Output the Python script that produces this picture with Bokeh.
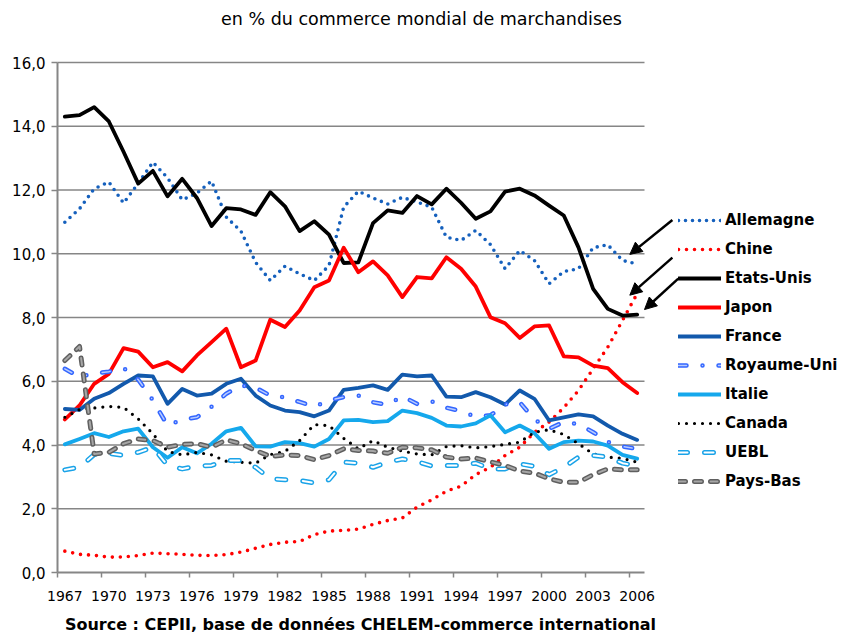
from bokeh.plotting import figure
from bokeh.models import (Range1d, FixedTicker, CustomJSTickFormatter, Legend, LegendItem,
                          Arrow, NormalHead, Label)
from bokeh.embed import file_html
from bokeh.resources import INLINE

# ---------------- data (share of world merchandise trade, %) ----------------
years = list(range(1967, 2007))

allemagne = [10.99, 11.41, 12.04, 12.25, 11.59, 12.21, 12.87, 12.38, 11.69, 11.9,
             12.28, 11.15, 10.71, 9.73, 9.16, 9.61, 9.37, 9.16, 9.63, 11.46,
             11.96, 11.75, 11.56, 11.77, 11.62, 11.46, 10.52, 10.42, 10.73, 10.29,
             9.53, 10.1, 9.79, 9.06, 9.44, 9.53, 10.19, 10.28, 9.79, 9.68]
chine = [0.67, 0.57, 0.54, 0.48, 0.49, 0.53, 0.61, 0.59, 0.57, 0.54,
         0.53, 0.56, 0.64, 0.76, 0.88, 0.95, 0.97, 1.19, 1.3, 1.32,
         1.36, 1.51, 1.63, 1.71, 2.05, 2.28, 2.55, 2.71, 3.07, 3.3,
         3.67, 3.93, 4.4, 4.72, 5.17, 5.71, 6.39, 7.07, 7.91, 8.75]
etats_unis = [14.3, 14.35, 14.6, 14.15, 13.2, 12.2, 12.6, 11.8, 12.35, 11.75,
              10.87, 11.43, 11.39, 11.22, 11.93, 11.49, 10.71, 11.02, 10.6, 9.71,
              9.73, 10.96, 11.36, 11.28, 11.81, 11.55, 12.04, 11.6, 11.1, 11.33,
              11.95, 12.04, 11.83, 11.51, 11.2, 10.2, 8.9, 8.27, 8.06, 8.09]
japon = [4.8, 5.24, 5.92, 6.23, 7.04, 6.93, 6.44, 6.6, 6.31, 6.81,
         7.23, 7.65, 6.44, 6.65, 7.93, 7.7, 8.22, 8.95, 9.16, 10.19,
         9.42, 9.76, 9.32, 8.64, 9.27, 9.23, 9.89, 9.53, 8.97, 8.01,
         7.82, 7.36, 7.72, 7.75, 6.78, 6.75, 6.49, 6.41, 5.97, 5.63]
france = [5.13, 5.1, 5.45, 5.63, 5.92, 6.18, 6.15, 5.29, 5.76, 5.55,
          5.61, 5.92, 6.08, 5.55, 5.24, 5.08, 5.03, 4.9, 5.08, 5.73,
          5.79, 5.87, 5.73, 6.21, 6.15, 6.18, 5.52, 5.5, 5.66, 5.5,
          5.27, 5.71, 5.45, 4.77, 4.87, 4.96, 4.9, 4.61, 4.35, 4.16]
royaume_uni = [6.39, 6.13, 6.25, 6.3, 6.42, 6.05, 5.4, 4.61, 4.8, 4.87,
               5.2, 5.61, 5.87, 5.8, 5.55, 5.5, 5.35, 5.2, 5.4, 5.5,
               5.55, 5.34, 5.26, 5.53, 5.29, 5.37, 5.17, 5.06, 4.89, 4.93,
               5.27, 5.34, 4.8, 4.51, 4.72, 4.66, 4.4, 4.1, 3.95, 3.88]
italie = [4.02, 4.19, 4.37, 4.25, 4.43, 4.51, 3.93, 3.6, 3.93, 3.74,
          4.04, 4.43, 4.54, 3.96, 3.95, 4.09, 4.06, 3.95, 4.19, 4.77,
          4.79, 4.72, 4.75, 5.08, 5.0, 4.85, 4.61, 4.58, 4.68, 4.93,
          4.4, 4.61, 4.37, 3.88, 4.09, 4.14, 4.11, 3.98, 3.69, 3.57]
canada = [4.87, 5.11, 5.16, 5.21, 5.18, 4.82, 4.35, 3.8, 3.69, 3.77,
          3.69, 3.49, 3.46, 3.43, 3.7, 3.8, 4.14, 4.64, 4.61, 4.21,
          3.88, 4.14, 3.93, 3.81, 3.72, 3.69, 3.95, 3.98, 3.91, 3.95,
          4.02, 4.09, 4.4, 4.48, 4.33, 4.04, 3.72, 3.62, 3.58, 3.46]
uebl = [3.22, 3.3, 3.7, 3.74, 3.67, 3.77, 3.93, 3.36, 3.25, 3.34,
        3.36, 3.51, 3.51, 3.3, 2.94, 2.91, 2.89, 2.81, 2.91, 3.46,
        3.43, 3.3, 3.46, 3.56, 3.48, 3.34, 3.36, 3.36, 3.43, 3.25,
        3.25, 3.41, 3.33, 3.07, 3.3, 3.62, 3.67, 3.62, 3.43, 3.34]
pays_bas = [6.65, 7.09, 3.72, 3.77, 4.04, 4.19, 4.14, 3.93, 4.02, 4.04,
            3.93, 4.16, 4.04, 3.83, 3.64, 3.69, 3.67, 3.54, 3.67, 3.88,
            3.83, 3.81, 3.74, 3.93, 3.91, 3.85, 3.62, 3.56, 3.59, 3.47,
            3.36, 3.18, 3.12, 2.94, 2.83, 2.83, 3.07, 3.25, 3.22, 3.22]

y_ticks = [0, 2, 4, 6, 8, 10, 12, 14, 16]
x_label_years = years[::3]

title_text = "en % du commerce mondial de marchandises"
source_text = "Source : CEPII, base de données CHELEM-commerce international"

# ---------------- layout ----------------
FONT = "DejaVu Sans"
AXIS_GRAY = "#868686"
W, H = 845, 634
CHART_LEFT, CHART_RIGHT = 57, 644  # pixel columns of the chart area
CHART_TOP, CHART_BOTTOM = 62, 572  # pixel rows of 16,0 and 0,0
x0 = years[0] - 0.5
x1 = years[-1] + 0.5
px_per_year = (CHART_RIGHT - CHART_LEFT) / (x1 - x0)
px_per_unit = (CHART_BOTTOM - CHART_TOP) / (y_ticks[-1] - y_ticks[0])
x_lo = x0 - CHART_LEFT / px_per_year
x_hi = x0 + (W - CHART_LEFT) / px_per_year
y_lo = y_ticks[0] - (H - CHART_BOTTOM) / px_per_unit
y_hi = y_ticks[-1] + CHART_TOP / px_per_unit

p = figure(frame_width=W, frame_height=H,
           x_range=Range1d(x_lo, x_hi), y_range=Range1d(y_lo, y_hi),
           output_backend="svg", toolbar_location=None,
           min_border_left=0, min_border_right=0,
           min_border_top=0, min_border_bottom=0)
p.outline_line_color = None
p.xgrid.visible = False
p.ygrid.visible = False
p.background_fill_color = "white"
p.border_fill_color = "white"

# horizontal grid lines (limited to the chart area)
grid_vals = y_ticks[1:]
p.segment(x0=[x0] * len(grid_vals), y0=grid_vals, x1=[x1] * len(grid_vals), y1=grid_vals,
          line_color=AXIS_GRAY, line_width=1.6)

# axes
xa = p.xaxis[0]
xa.fixed_location = y_ticks[0]
xa.ticker = FixedTicker(ticks=x_label_years, minor_ticks=[y - 0.5 for y in x_label_years])
xa.bounds = (x0, x1)
xa.axis_line_color = AXIS_GRAY
xa.axis_line_width = 2
xa.major_tick_line_color = None
xa.major_tick_out = 0
xa.major_tick_in = 0
xa.minor_tick_line_color = AXIS_GRAY
xa.minor_tick_line_width = 1.5
xa.minor_tick_out = 5
xa.minor_tick_in = 0
xa.major_label_standoff = 13
xa.major_label_text_font = FONT
xa.major_label_text_font_size = "14px"
xa.major_label_text_color = "#000000"

ya = p.yaxis[0]
ya.fixed_location = x0
ya.ticker = FixedTicker(ticks=y_ticks)
ya.bounds = (y_ticks[0], y_ticks[-1])
ya.formatter = CustomJSTickFormatter(code="return tick.toFixed(1).replace('.', ',');")
ya.axis_line_color = AXIS_GRAY
ya.axis_line_width = 2
ya.major_tick_line_color = AXIS_GRAY
ya.major_tick_line_width = 1.5
ya.major_tick_out = 6
ya.major_tick_in = 0
ya.minor_tick_line_color = None
ya.major_label_standoff = 6
ya.major_label_text_font = FONT
ya.major_label_text_font_size = "15px"
ya.major_label_text_color = "#000000"

# title and source (screen units relative to the frame's lower-left corner)
p.add_layout(Label(x=421, y=H - 18, x_units="screen", y_units="screen",
                   text=title_text, text_align="center", text_baseline="middle",
                   text_font=FONT, text_font_size="17.5px", text_color="#000000"))
p.add_layout(Label(x=360, y=H - 624, x_units="screen", y_units="screen",
                   text=source_text, text_align="center", text_baseline="middle",
                   text_font=FONT, text_font_size="16px", text_font_style="bold",
                   text_color="#000000"))

# ---------------- series ----------------
def simple(vals, color, width, dash="solid"):
    return [p.line(years, vals, line_color=color, line_width=width, line_dash=dash,
                   line_cap="round", line_join="round")]

def outlined(vals, outer, inner, w_out, w_in, dash):
    r1 = p.line(years, vals, line_color=outer, line_width=w_out, line_dash=dash,
                line_cap="round", line_join="round")
    r2 = p.line(years, vals, line_color=inner, line_width=w_in, line_dash=dash,
                line_cap="round", line_join="round")
    return [r1, r2]

series = [
    ("Allemagne", simple(allemagne, "#1560BD", 3.6, "0 7")),
    ("Chine", simple(chine, "#FF0000", 3.6, "0 8")),
    ("Etats-Unis", simple(etats_unis, "#000000", 3.8)),
    ("Japon", simple(japon, "#FF0000", 3.8)),
    ("France", simple(france, "#1259AC", 3.8)),
    ("Royaume-Uni", outlined(royaume_uni, "#3366FF", "#B8CCFF", 4.5, 1.5, "8 16 0 16")),
    ("Italie", simple(italie, "#15A8EC", 3.8)),
    ("Canada", simple(canada, "#000000", 3.2, "0 8")),
    ("UEBL", outlined(uebl, "#1AA3E8", "#FFFFFF", 5, 2, "9 17")),
    ("Pays-Bas", outlined(pays_bas, "#5F5F5F", "#A6A6A6", 5, 2, "7 9")),
]

items = [LegendItem(label=name, renderers=rs) for name, rs in series]
legend = Legend(items=items, location=(678, 77 + H - CHART_BOTTOM), orientation="vertical",
                glyph_width=43, glyph_height=28, label_height=28, spacing=1,
                padding=0, margin=0, label_standoff=4,
                border_line_color=None, background_fill_alpha=0,
                label_text_font=FONT, label_text_font_size="15px",
                label_text_font_style="bold", label_text_color="#000000")
p.add_layout(legend)

# ---------------- arrows ----------------
def arrow(x_end_, y_end_, dx, dy):
    p.add_layout(Arrow(end=NormalHead(size=12, fill_color="black", line_color="black"),
                       x_start=x_end_ + dx, y_start=y_end_ + dy, x_end=x_end_, y_end=y_end_,
                       line_color="black", line_width=2.5))

arrow(years[-1] - 0.5, allemagne[-1] + 0.3, 2.9, 1.08)
arrow(years[-1] - 0.5, chine[-1] - 0.05, 2.9, 1.18)
arrow(years[-1] + 0.5, etats_unis[-1] + 0.16, 2.3, 0.97)

open("out.html", "w").write(file_html(p, INLINE))
